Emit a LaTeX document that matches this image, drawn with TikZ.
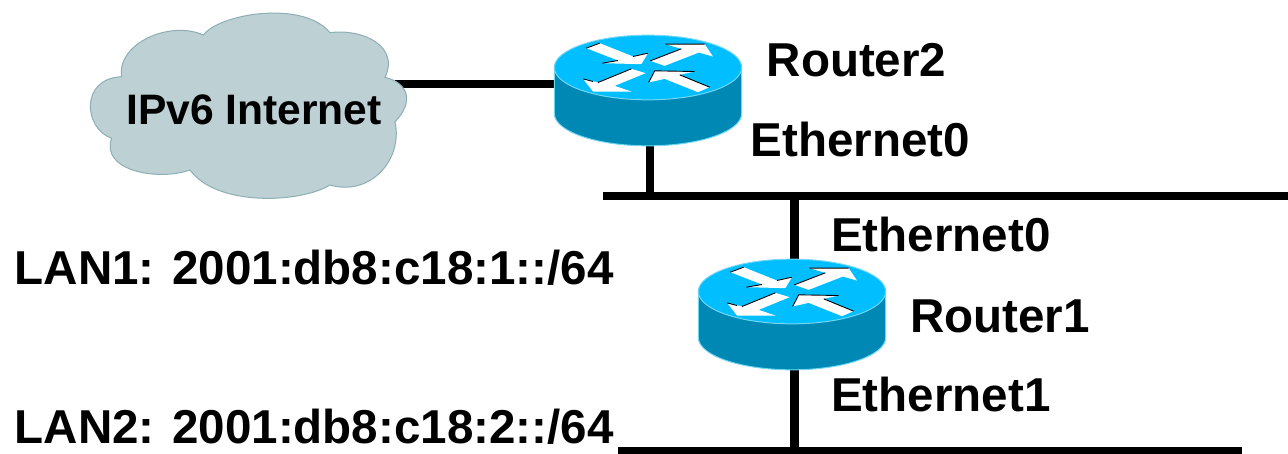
\documentclass[tikz,border=0pt]{standalone}
\usepackage{fontspec}
\setmainfont{Liberation Sans}
\definecolor{rtop}{RGB}{0,190,255}
\definecolor{rside}{RGB}{0,136,181}
\definecolor{rrim}{RGB}{110,215,245}
\definecolor{cloudfill}{RGB}{189,208,211}
\definecolor{cloudedge}{RGB}{140,175,180}
\tikzset{
  lbl/.style={inner sep=0pt,anchor=base west,font=\fontsize{47.55}{50}\selectfont\bfseries},
  link/.style={line width=8.5pt,black},
  busline/.style={fill=black,inner sep=0pt,minimum height=8pt},
  routerbox/.style={inner sep=0pt,minimum width=188pt,minimum height=111pt},
  routerpic/.pic={
    \begin{scope}[x=1pt/3,y=-1pt/3,line join=round]
      % coordinates: zoom thirds, origin at centre of the top face
      \fill[rside,draw=rrim,line width=1pt] (-281,0) -- (-281,138)
        arc[start angle=180,end angle=0,x radius=281,y radius=97] -- (281,0) -- cycle;
      \fill[rtop,draw=rrim,line width=1pt] (0,0) ellipse[x radius=281,y radius=97];
      \fill[white] (-185,-58) -- (-145,-73) -- (-45,-33) -- (0,-43) -- (-20,-10) -- (-137,-13) -- (-90,-21) -- cycle;
      \fill[white] (7,-20) -- (100,-56) -- (53,-70) -- (170,-70) -- (195,-33) -- (153,-45) -- (50,-5) -- cycle;
      \fill[white] (-7,17) -- (-100,55) -- (-50,72) -- (-165,72) -- (-195,34) -- (-150,45) -- (-50,4) -- cycle;
      \fill[white] (2,45) -- (20,10) -- (140,12) -- (95,22) -- (185,59) -- (150,74) -- (50,34) -- cycle;
      \draw[black,line width=0.9pt]
        (-185,-58) -- (-145,-73) (-45,-33) -- (0,-43) (-137,-13) -- (-90,-21)
        (7,-20) -- (100,-56) (53,-70) -- (170,-70)
        (-150,45) -- (-50,4) (-195,34) -- (-165,42)
        (2,45) -- (20,10) -- (140,12) (95,22) -- (185,59);
    \end{scope}
  }
}
\begin{document}
\begin{tikzpicture}[x=1pt,y=-1pt]
\useasboundingbox (0,0) rectangle (1288,453);
% anchors for connectors
\node[routerbox] (r2) at (650,90.5) {};
\node[routerbox] (r1) at (794.5,314.5) {};
\node[inner sep=0pt,minimum width=316pt,minimum height=187pt] (cloud) at (250,103.5) {};
\node[busline,minimum width=685pt] (lan1) at (945.5,196) {};
\node[busline,minimum width=624pt] (lan2) at (930,451) {};
\coordinate (cloudport) at (395,84);
% connectors
\draw[link] (cloudport) -- (r2.west |- cloudport);
\draw[link] (r2.south) -- (r2.south |- lan1.center);
\draw[link] (r1.north |- lan1.center) -- (r1.north);
\draw[link] (r1.south) -- (r1.south |- lan2.center);
% cloud
\begin{scope}[shift={(70,0)},x=1pt/3,y=-1pt/3]
\draw[fill=cloudfill,draw=cloudedge,line width=1pt]
  (400,105) .. controls (450,40) and (700,0) .. (780,98)
  .. controls (880,85) and (990,140) .. (945,232)
  .. controls (1020,250) and (1030,310) .. (975,365)
  .. controls (1000,480) and (900,590) .. (780,555)
  .. controls (690,610) and (440,620) .. (360,510)
  .. controls (260,545) and (90,510) .. (125,415)
  .. controls (40,385) and (30,235) .. (155,230)
  .. controls (140,130) and (300,60) .. (400,105) -- cycle;
\end{scope}
% routers
\pic at (648,67.5) {routerpic};
\pic at (792,291.5) {routerpic};
% labels
\node[lbl,font=\fontsize{42.6}{45}\selectfont\bfseries,anchor=base] (inet) at (254,124.5) {IPv6 Internet};
\node[lbl] (t1) at (766.5,76) {Router2};
\node[lbl] (t2) at (750.5,156) {Ethernet0};
\node[lbl] (t3) at (831,251) {Ethernet0};
\node[lbl] (t4) at (910,332) {Router1};
\node[lbl] (t5) at (831,411) {Ethernet1};
\node[lbl] (t6) at (14.5,284) {LAN1: 2001:db8:c18:1::/64};
\node[lbl] (t7) at (14.5,443) {LAN2: 2001:db8:c18:2::/64};
\end{tikzpicture}
\end{document}
